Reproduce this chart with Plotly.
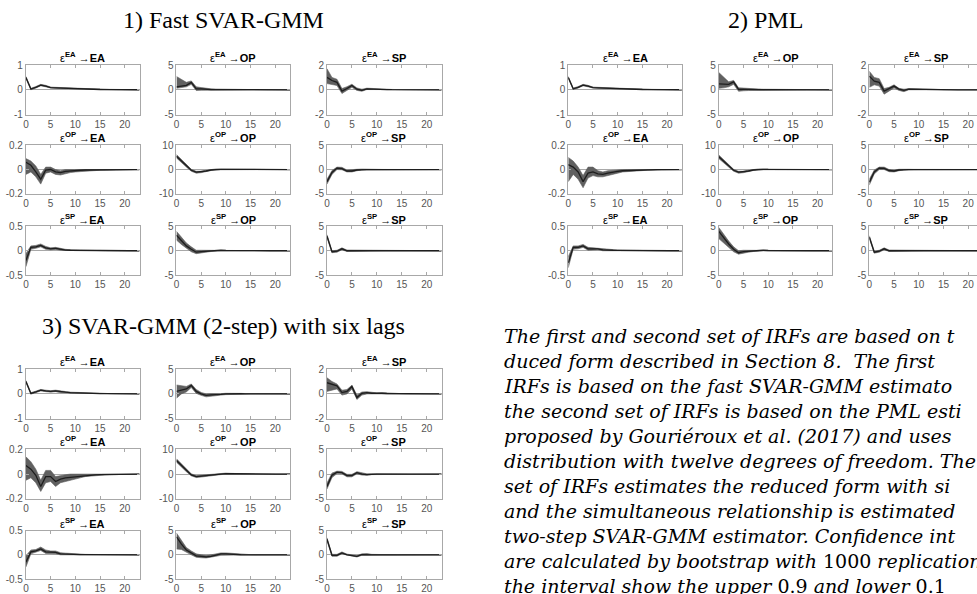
import plotly.graph_objects as go

W, H = 977, 594
# Calibration between figure pixels and the photographed page (measured):
# photo_y = 5.4 + 0.979 * fig_y ; photo_x = fig_x + 2
Y0, SY, X0 = 5.4, 0.979, 2.0

HORIZON = list(range(24))
SHOCKS = ["EA", "OP", "SP"]
PANEL_TITLES = ["1) Fast SVAR-GMM", "2) PML", "3) SVAR-GMM (2-step) with six lags"]
Y_LIMITS = [[1, 5, 2], [0.2, 10, 5], [0.5, 5, 5]]
X_TICKS = [0, 5, 10, 15, 20]

# ---------------- Panel 1: Fast SVAR-GMM ----------------
F_EA_EA_M = [0.50, 0.03, 0.10, 0.19, 0.15, 0.09, 0.08, 0.07, 0.06, 0.05, 0.04, 0.03, 0.025, 0.02, 0.015, 0.012, 0.01, 0.008, 0.006, 0.005, 0.004, 0.003, 0.002, 0.002]
F_EA_EA_L = [0.46, 0.00, 0.07, 0.16, 0.12, 0.07, 0.06, 0.05, 0.045, 0.035, 0.03, 0.02, 0.015, 0.012, 0.01, 0.008, 0.006, 0.005, 0.004, 0.003, 0.002, 0.002, 0.001, 0.001]
F_EA_EA_H = [0.54, 0.06, 0.13, 0.22, 0.18, 0.11, 0.10, 0.09, 0.075, 0.065, 0.05, 0.04, 0.035, 0.028, 0.02, 0.016, 0.014, 0.011, 0.008, 0.007, 0.006, 0.004, 0.003, 0.003]
F_EA_OP_M = [0.6, 0.8, 0.9, 1.5, 0.2, 0.2, 0.1, 0.05, 0.05, 0.05, 0.04, 0.03, 0.02, 0.02, 0.01, 0.01, 0.01, 0.0, 0.0, 0.0, 0.0, 0.0, 0.0, 0.0]
F_EA_OP_L = [0.3, 0.5, 0.6, 1.1, -0.15, -0.1, -0.1, -0.08, -0.05, -0.04, -0.03, -0.02, -0.02, -0.01, -0.01, -0.01, 0.0, 0.0, 0.0, 0.0, 0.0, 0.0, 0.0, 0.0]
F_EA_OP_H = [2.7, 2.1, 1.5, 1.8, 0.6, 0.45, 0.3, 0.2, 0.15, 0.12, 0.1, 0.08, 0.06, 0.05, 0.04, 0.03, 0.02, 0.02, 0.01, 0.01, 0.01, 0.0, 0.0, 0.0]
F_EA_SP_M = [1.0, 0.75, 0.6, -0.1, 0.1, 0.35, 0.05, -0.05, 0.08, 0.05, 0.03, 0.02, 0.02, 0.01, 0.01, 0.01, 0.0, 0.0, 0.0, 0.0, 0.0, 0.0, 0.0, 0.0]
F_EA_SP_L = [0.5, 0.45, 0.35, -0.3, -0.05, 0.2, -0.05, -0.12, 0.02, 0.0, 0.0, -0.01, -0.01, -0.01, 0.0, 0.0, 0.0, 0.0, 0.0, 0.0, 0.0, 0.0, 0.0, 0.0]
F_EA_SP_H = [1.7, 1.0, 0.85, 0.1, 0.25, 0.45, 0.15, 0.05, 0.13, 0.1, 0.07, 0.05, 0.04, 0.03, 0.02, 0.02, 0.01, 0.01, 0.01, 0.0, 0.0, 0.0, 0.0, 0.0]
F_OP_EA_M = [0.06, 0.035, -0.02, -0.08, -0.005, 0.0, -0.02, -0.025, -0.015, -0.01, -0.008, -0.006, -0.004, -0.003, -0.002, -0.002, -0.001, -0.001, 0.0, 0.0, 0.0, 0.0, 0.0, 0.0]
F_OP_EA_L = [-0.04, -0.02, -0.06, -0.12, -0.03, -0.02, -0.04, -0.045, -0.035, -0.025, -0.02, -0.015, -0.012, -0.01, -0.008, -0.006, -0.005, -0.004, -0.003, -0.002, -0.002, -0.001, -0.001, -0.001]
F_OP_EA_H = [0.09, 0.07, 0.03, -0.04, 0.02, 0.02, 0.0, -0.01, 0.0, 0.0, 0.0, 0.001, 0.001, 0.001, 0.001, 0.001, 0.001, 0.001, 0.001, 0.001, 0.0, 0.0, 0.0, 0.0]
F_OP_OP_M = [5.5, 3.5, 1.5, -0.3, -1.1, -1.0, -0.6, -0.2, 0.1, 0.1, 0.05, 0.03, 0.02, 0.01, 0.0, 0.0, 0.0, 0.0, 0.0, 0.0, 0.0, 0.0, 0.0, 0.0]
F_OP_OP_L = [4.8, 2.9, 1.0, -0.7, -1.5, -1.3, -0.9, -0.4, -0.1, -0.05, -0.05, -0.03, -0.02, -0.01, -0.01, 0.0, 0.0, 0.0, 0.0, 0.0, 0.0, 0.0, 0.0, 0.0]
F_OP_OP_H = [6.2, 4.1, 2.0, 0.1, -0.7, -0.7, -0.3, 0.0, 0.25, 0.2, 0.15, 0.1, 0.06, 0.04, 0.03, 0.02, 0.01, 0.01, 0.0, 0.0, 0.0, 0.0, 0.0, 0.0]
F_OP_SP_M = [-2.5, -0.6, 0.3, 0.2, -0.3, -0.3, -0.1, 0.0, 0.0, 0.0, 0.0, 0.0, 0.0, 0.0, 0.0, 0.0, 0.0, 0.0, 0.0, 0.0, 0.0, 0.0, 0.0, 0.0]
F_OP_SP_L = [-3.0, -1.0, 0.0, -0.05, -0.5, -0.5, -0.25, -0.1, -0.05, -0.03, -0.02, -0.02, -0.01, -0.01, 0.0, 0.0, 0.0, 0.0, 0.0, 0.0, 0.0, 0.0, 0.0, 0.0]
F_OP_SP_H = [-2.0, -0.2, 0.5, 0.45, -0.1, -0.1, 0.05, 0.1, 0.05, 0.03, 0.02, 0.02, 0.01, 0.01, 0.0, 0.0, 0.0, 0.0, 0.0, 0.0, 0.0, 0.0, 0.0, 0.0]
F_SP_EA_M = [-0.2, 0.07, 0.08, 0.11, 0.06, 0.04, 0.05, 0.03, 0.015, 0.01, 0.008, 0.006, 0.004, 0.003, 0.002, 0.002, 0.001, 0.001, 0.0, 0.0, 0.0, 0.0, 0.0, 0.0]
F_SP_EA_L = [-0.33, 0.03, 0.05, 0.08, 0.03, 0.02, 0.03, 0.01, 0.0, 0.0, 0.0, 0.0, 0.0, 0.0, 0.0, 0.0, 0.0, 0.0, 0.0, 0.0, 0.0, 0.0, 0.0, 0.0]
F_SP_EA_H = [-0.06, 0.1, 0.11, 0.14, 0.09, 0.06, 0.07, 0.045, 0.03, 0.02, 0.015, 0.012, 0.008, 0.006, 0.004, 0.003, 0.002, 0.002, 0.001, 0.001, 0.0, 0.0, 0.0, 0.0]
F_SP_OP_M = [3.2, 2.0, 1.0, 0.3, -0.3, -0.2, -0.1, 0.0, 0.1, 0.1, 0.05, 0.03, 0.02, 0.01, 0.0, 0.0, 0.0, 0.0, 0.0, 0.0, 0.0, 0.0, 0.0, 0.0]
F_SP_OP_L = [2.2, 1.3, 0.5, -0.2, -0.6, -0.45, -0.3, -0.15, -0.05, -0.02, -0.02, -0.01, -0.01, 0.0, 0.0, 0.0, 0.0, 0.0, 0.0, 0.0, 0.0, 0.0, 0.0, 0.0]
F_SP_OP_H = [4.0, 2.8, 1.6, 0.8, 0.1, 0.1, 0.1, 0.15, 0.2, 0.2, 0.12, 0.08, 0.05, 0.03, 0.02, 0.01, 0.01, 0.0, 0.0, 0.0, 0.0, 0.0, 0.0, 0.0]
F_SP_SP_M = [3.0, -0.2, -0.1, 0.4, 0.0, 0.0, -0.05, 0.0, 0.02, 0.01, 0.0, 0.0, 0.0, 0.0, 0.0, 0.0, 0.0, 0.0, 0.0, 0.0, 0.0, 0.0, 0.0, 0.0]
F_SP_SP_L = [2.7, -0.4, -0.3, 0.2, -0.15, -0.15, -0.15, -0.08, -0.05, -0.03, -0.02, -0.01, 0.0, 0.0, 0.0, 0.0, 0.0, 0.0, 0.0, 0.0, 0.0, 0.0, 0.0, 0.0]
F_SP_SP_H = [3.3, 0.0, 0.1, 0.6, 0.15, 0.15, 0.05, 0.08, 0.08, 0.05, 0.03, 0.02, 0.01, 0.0, 0.0, 0.0, 0.0, 0.0, 0.0, 0.0, 0.0, 0.0, 0.0, 0.0]

# ---------------- Panel 2: PML ----------------
P_EA_EA_M = [0.50, 0.04, 0.10, 0.19, 0.15, 0.09, 0.08, 0.07, 0.06, 0.05, 0.04, 0.03, 0.025, 0.02, 0.015, 0.012, 0.01, 0.008, 0.006, 0.005, 0.004, 0.003, 0.002, 0.002]
P_EA_EA_L = [0.46, 0.01, 0.07, 0.16, 0.12, 0.07, 0.06, 0.05, 0.045, 0.035, 0.03, 0.02, 0.015, 0.012, 0.01, 0.008, 0.006, 0.005, 0.004, 0.003, 0.002, 0.002, 0.001, 0.001]
P_EA_EA_H = [0.54, 0.07, 0.13, 0.22, 0.18, 0.11, 0.10, 0.09, 0.075, 0.065, 0.05, 0.04, 0.035, 0.028, 0.02, 0.016, 0.014, 0.011, 0.008, 0.007, 0.006, 0.004, 0.003, 0.003]
P_EA_OP_M = [1.2, 1.2, 1.1, 1.6, 0.1, 0.1, 0.05, 0.05, 0.05, 0.04, 0.03, 0.02, 0.02, 0.01, 0.01, 0.01, 0.0, 0.0, 0.0, 0.0, 0.0, 0.0, 0.0, 0.0]
P_EA_OP_L = [0.3, 0.4, 0.6, 1.1, -0.3, -0.2, -0.15, -0.1, -0.06, -0.05, -0.04, -0.03, -0.02, -0.01, -0.01, 0.0, 0.0, 0.0, 0.0, 0.0, 0.0, 0.0, 0.0, 0.0]
P_EA_OP_H = [3.5, 2.5, 1.6, 1.9, 0.4, 0.35, 0.25, 0.2, 0.15, 0.12, 0.1, 0.08, 0.06, 0.05, 0.04, 0.03, 0.02, 0.01, 0.01, 0.0, 0.0, 0.0, 0.0, 0.0]
P_EA_SP_M = [1.1, 0.7, 0.6, -0.1, 0.1, 0.3, 0.05, -0.05, 0.05, 0.04, 0.03, 0.02, 0.02, 0.01, 0.01, 0.0, 0.0, 0.0, 0.0, 0.0, 0.0, 0.0, 0.0, 0.0]
P_EA_SP_L = [0.2, 0.4, 0.3, -0.35, -0.1, 0.15, -0.05, -0.15, 0.0, -0.01, -0.01, -0.01, 0.0, 0.0, 0.0, 0.0, 0.0, 0.0, 0.0, 0.0, 0.0, 0.0, 0.0, 0.0]
P_EA_SP_H = [1.5, 1.0, 0.9, 0.1, 0.2, 0.4, 0.12, 0.05, 0.1, 0.08, 0.06, 0.05, 0.04, 0.03, 0.02, 0.01, 0.01, 0.0, 0.0, 0.0, 0.0, 0.0, 0.0, 0.0]
P_OP_EA_M = [0.04, 0.02, -0.02, -0.1, -0.03, -0.02, -0.035, -0.04, -0.03, -0.02, -0.015, -0.01, -0.008, -0.006, -0.004, -0.003, -0.002, -0.002, -0.001, -0.001, 0.0, 0.0, 0.0, 0.0]
P_OP_EA_L = [-0.1, -0.04, -0.08, -0.15, -0.07, -0.05, -0.06, -0.06, -0.05, -0.04, -0.03, -0.02, -0.015, -0.012, -0.01, -0.008, -0.006, -0.005, -0.004, -0.003, -0.002, -0.002, -0.001, -0.001]
P_OP_EA_H = [0.1, 0.07, 0.02, -0.05, 0.02, 0.02, -0.01, -0.02, -0.01, -0.005, 0.0, 0.0, 0.0, 0.0, 0.0, 0.001, 0.001, 0.001, 0.001, 0.001, 0.0, 0.0, 0.0, 0.0]
P_OP_OP_M = [5.3, 3.4, 1.5, -0.3, -1.1, -1.0, -0.6, -0.2, 0.1, 0.1, 0.05, 0.03, 0.02, 0.01, 0.0, 0.0, 0.0, 0.0, 0.0, 0.0, 0.0, 0.0, 0.0, 0.0]
P_OP_OP_L = [4.5, 2.8, 1.0, -0.7, -1.5, -1.3, -0.9, -0.4, -0.1, -0.05, -0.05, -0.03, -0.02, -0.01, -0.01, 0.0, 0.0, 0.0, 0.0, 0.0, 0.0, 0.0, 0.0, 0.0]
P_OP_OP_H = [6.0, 4.0, 2.0, 0.1, -0.7, -0.7, -0.3, 0.0, 0.25, 0.2, 0.15, 0.1, 0.06, 0.04, 0.03, 0.02, 0.01, 0.01, 0.0, 0.0, 0.0, 0.0, 0.0, 0.0]
P_OP_SP_M = [-2.6, -0.5, 0.3, 0.25, -0.2, -0.3, -0.1, 0.0, 0.0, 0.0, 0.0, 0.0, 0.0, 0.0, 0.0, 0.0, 0.0, 0.0, 0.0, 0.0, 0.0, 0.0, 0.0, 0.0]
P_OP_SP_L = [-3.2, -0.9, 0.0, 0.0, -0.45, -0.5, -0.25, -0.1, -0.05, -0.03, -0.02, -0.02, -0.01, -0.01, 0.0, 0.0, 0.0, 0.0, 0.0, 0.0, 0.0, 0.0, 0.0, 0.0]
P_OP_SP_H = [-2.0, -0.1, 0.5, 0.5, 0.0, -0.1, 0.05, 0.1, 0.05, 0.03, 0.02, 0.02, 0.01, 0.01, 0.0, 0.0, 0.0, 0.0, 0.0, 0.0, 0.0, 0.0, 0.0, 0.0]
P_SP_EA_M = [-0.25, 0.07, 0.07, 0.1, 0.04, 0.04, 0.04, 0.02, 0.01, 0.01, 0.008, 0.006, 0.004, 0.003, 0.002, 0.002, 0.001, 0.001, 0.0, 0.0, 0.0, 0.0, 0.0, 0.0]
P_SP_EA_L = [-0.35, 0.03, 0.04, 0.07, 0.01, 0.01, 0.02, 0.0, 0.0, 0.0, 0.0, 0.0, 0.0, 0.0, 0.0, 0.0, 0.0, 0.0, 0.0, 0.0, 0.0, 0.0, 0.0, 0.0]
P_SP_EA_H = [-0.12, 0.1, 0.1, 0.13, 0.07, 0.06, 0.06, 0.04, 0.025, 0.02, 0.015, 0.012, 0.008, 0.006, 0.004, 0.003, 0.002, 0.002, 0.001, 0.001, 0.0, 0.0, 0.0, 0.0]
P_SP_OP_M = [4.0, 2.6, 1.4, 0.3, -0.4, -0.2, -0.1, 0.0, 0.1, 0.1, 0.05, 0.03, 0.02, 0.01, 0.0, 0.0, 0.0, 0.0, 0.0, 0.0, 0.0, 0.0, 0.0, 0.0]
P_SP_OP_L = [2.5, 1.6, 0.7, -0.2, -0.7, -0.5, -0.3, -0.15, -0.05, -0.02, -0.02, -0.01, -0.01, 0.0, 0.0, 0.0, 0.0, 0.0, 0.0, 0.0, 0.0, 0.0, 0.0, 0.0]
P_SP_OP_H = [4.8, 3.3, 2.0, 0.8, 0.0, 0.1, 0.1, 0.15, 0.2, 0.2, 0.12, 0.08, 0.05, 0.03, 0.02, 0.01, 0.01, 0.0, 0.0, 0.0, 0.0, 0.0, 0.0, 0.0]
P_SP_SP_M = [2.8, -0.3, -0.1, 0.4, 0.0, 0.0, -0.05, 0.0, 0.02, 0.01, 0.0, 0.0, 0.0, 0.0, 0.0, 0.0, 0.0, 0.0, 0.0, 0.0, 0.0, 0.0, 0.0, 0.0]
P_SP_SP_L = [2.5, -0.5, -0.3, 0.2, -0.15, -0.15, -0.15, -0.08, -0.05, -0.03, -0.02, -0.01, 0.0, 0.0, 0.0, 0.0, 0.0, 0.0, 0.0, 0.0, 0.0, 0.0, 0.0, 0.0]
P_SP_SP_H = [3.1, -0.1, 0.1, 0.6, 0.15, 0.15, 0.05, 0.08, 0.08, 0.05, 0.03, 0.02, 0.01, 0.0, 0.0, 0.0, 0.0, 0.0, 0.0, 0.0, 0.0, 0.0, 0.0, 0.0]

# ---------------- Panel 3: SVAR-GMM (2-step), six lags ----------------
S_EA_EA_M = [0.50, 0.02, 0.08, 0.15, 0.12, 0.10, 0.12, 0.08, 0.07, 0.05, 0.04, 0.03, 0.03, 0.02, 0.015, 0.012, 0.01, 0.008, 0.006, 0.005, 0.004, 0.003, 0.002, 0.002]
S_EA_EA_L = [0.46, -0.01, 0.05, 0.12, 0.09, 0.07, 0.09, 0.05, 0.045, 0.03, 0.02, 0.015, 0.015, 0.01, 0.008, 0.006, 0.005, 0.004, 0.003, 0.002, 0.002, 0.001, 0.001, 0.001]
S_EA_EA_H = [0.54, 0.05, 0.11, 0.18, 0.15, 0.13, 0.15, 0.11, 0.095, 0.07, 0.06, 0.045, 0.045, 0.03, 0.022, 0.018, 0.015, 0.012, 0.009, 0.008, 0.006, 0.005, 0.003, 0.003]
S_EA_OP_M = [0.5, 0.8, 1.0, 1.7, 0.5, 0.0, -0.3, -0.2, -0.2, -0.1, 0.0, 0.05, 0.05, 0.03, 0.02, 0.01, 0.0, 0.0, 0.0, 0.0, 0.0, 0.0, 0.0, 0.0]
S_EA_OP_L = [-0.9, 0.0, 0.4, 1.3, 0.1, -0.3, -0.6, -0.45, -0.35, -0.25, -0.15, -0.1, -0.05, -0.05, -0.03, -0.02, -0.01, 0.0, 0.0, 0.0, 0.0, 0.0, 0.0, 0.0]
S_EA_OP_H = [1.8, 1.6, 1.5, 2.0, 0.9, 0.3, 0.0, 0.05, 0.0, 0.05, 0.12, 0.15, 0.12, 0.1, 0.07, 0.05, 0.03, 0.02, 0.01, 0.0, 0.0, 0.0, 0.0, 0.0]
S_EA_SP_M = [0.9, 0.75, 0.65, 0.1, 0.2, 0.6, -0.3, 0.05, 0.1, 0.05, 0.02, 0.05, 0.03, 0.02, 0.01, 0.01, 0.0, 0.0, 0.0, 0.0, 0.0, 0.0, 0.0, 0.0]
S_EA_SP_L = [0.2, 0.3, 0.4, -0.1, 0.0, 0.4, -0.45, -0.1, 0.0, -0.03, -0.05, -0.02, -0.02, -0.01, -0.01, 0.0, 0.0, 0.0, 0.0, 0.0, 0.0, 0.0, 0.0, 0.0]
S_EA_SP_H = [1.3, 1.0, 0.8, 0.3, 0.35, 0.7, -0.1, 0.15, 0.18, 0.12, 0.08, 0.1, 0.07, 0.05, 0.03, 0.02, 0.01, 0.01, 0.0, 0.0, 0.0, 0.0, 0.0, 0.0]
S_OP_EA_M = [0.07, 0.04, -0.01, -0.1, -0.02, -0.02, -0.06, -0.04, -0.03, -0.025, -0.02, -0.015, -0.01, -0.008, -0.006, -0.004, -0.003, -0.002, -0.002, -0.001, -0.001, 0.0, 0.0, 0.0]
S_OP_EA_L = [-0.05, -0.03, -0.07, -0.14, -0.07, -0.06, -0.1, -0.07, -0.06, -0.05, -0.04, -0.03, -0.02, -0.016, -0.012, -0.009, -0.007, -0.005, -0.004, -0.003, -0.002, -0.002, -0.001, -0.001]
S_OP_EA_H = [0.14, 0.1, 0.04, -0.05, 0.03, 0.03, -0.02, -0.01, -0.005, 0.0, 0.0, 0.0, 0.0, 0.0, 0.0, 0.001, 0.001, 0.001, 0.001, 0.001, 0.0, 0.0, 0.0, 0.0]
S_OP_OP_M = [5.5, 3.5, 1.5, -0.3, -1.0, -0.8, -0.8, -0.5, -0.2, 0.1, 0.2, 0.15, 0.1, 0.05, 0.02, 0.01, 0.0, 0.0, 0.0, 0.0, 0.0, 0.0, 0.0, 0.0]
S_OP_OP_L = [4.8, 2.9, 1.0, -0.7, -1.4, -1.2, -1.2, -0.8, -0.5, -0.2, -0.05, -0.05, -0.05, -0.03, -0.02, -0.01, 0.0, 0.0, 0.0, 0.0, 0.0, 0.0, 0.0, 0.0]
S_OP_OP_H = [6.2, 4.1, 2.0, 0.1, -0.6, -0.4, -0.4, -0.2, 0.1, 0.35, 0.4, 0.3, 0.2, 0.12, 0.07, 0.04, 0.02, 0.01, 0.0, 0.0, 0.0, 0.0, 0.0, 0.0]
S_OP_SP_M = [-2.5, -0.2, 0.4, 0.3, -0.3, -0.3, 0.3, 0.0, -0.1, 0.0, 0.0, 0.0, 0.0, 0.0, 0.0, 0.0, 0.0, 0.0, 0.0, 0.0, 0.0, 0.0, 0.0, 0.0]
S_OP_SP_L = [-3.0, -0.7, 0.1, 0.05, -0.55, -0.55, 0.05, -0.2, -0.25, -0.1, -0.05, -0.03, -0.02, -0.01, 0.0, 0.0, 0.0, 0.0, 0.0, 0.0, 0.0, 0.0, 0.0, 0.0]
S_OP_SP_H = [-1.8, 0.2, 0.6, 0.55, -0.05, -0.05, 0.5, 0.2, 0.05, 0.08, 0.05, 0.03, 0.02, 0.01, 0.0, 0.0, 0.0, 0.0, 0.0, 0.0, 0.0, 0.0, 0.0, 0.0]
S_SP_EA_M = [-0.15, 0.06, 0.08, 0.12, 0.06, 0.05, 0.05, 0.02, 0.02, 0.01, 0.008, 0.006, 0.004, 0.003, 0.002, 0.002, 0.001, 0.001, 0.0, 0.0, 0.0, 0.0, 0.0, 0.0]
S_SP_EA_L = [-0.25, 0.02, 0.05, 0.09, 0.03, 0.02, 0.02, 0.0, 0.0, 0.0, 0.0, 0.0, 0.0, 0.0, 0.0, 0.0, 0.0, 0.0, 0.0, 0.0, 0.0, 0.0, 0.0, 0.0]
S_SP_EA_H = [-0.02, 0.1, 0.11, 0.16, 0.1, 0.08, 0.08, 0.045, 0.035, 0.025, 0.018, 0.014, 0.01, 0.008, 0.006, 0.004, 0.003, 0.002, 0.002, 0.001, 0.001, 0.0, 0.0, 0.0]
S_SP_OP_M = [3.7, 2.2, 1.0, 0.4, -0.2, -0.3, -0.4, -0.3, 0.0, 0.2, 0.2, 0.1, 0.05, 0.02, 0.01, 0.0, 0.0, 0.0, 0.0, 0.0, 0.0, 0.0, 0.0, 0.0]
S_SP_OP_L = [1.2, 1.1, 0.5, 0.0, -0.5, -0.6, -0.65, -0.55, -0.3, -0.1, -0.05, -0.05, -0.05, -0.03, -0.02, -0.01, 0.0, 0.0, 0.0, 0.0, 0.0, 0.0, 0.0, 0.0]
S_SP_OP_H = [4.5, 3.0, 1.5, 0.8, 0.2, 0.0, -0.1, 0.0, 0.25, 0.4, 0.4, 0.3, 0.2, 0.12, 0.07, 0.04, 0.02, 0.01, 0.0, 0.0, 0.0, 0.0, 0.0, 0.0]
S_SP_SP_M = [3.2, -0.1, -0.1, 0.4, 0.0, -0.1, -0.3, 0.05, 0.1, 0.0, 0.0, 0.0, 0.0, 0.0, 0.0, 0.0, 0.0, 0.0, 0.0, 0.0, 0.0, 0.0, 0.0, 0.0]
S_SP_SP_L = [2.9, -0.3, -0.3, 0.2, -0.15, -0.25, -0.45, -0.1, -0.05, -0.1, -0.05, -0.03, -0.02, -0.01, 0.0, 0.0, 0.0, 0.0, 0.0, 0.0, 0.0, 0.0, 0.0, 0.0]
S_SP_SP_H = [3.5, 0.1, 0.1, 0.6, 0.15, 0.05, -0.15, 0.2, 0.25, 0.1, 0.05, 0.03, 0.02, 0.01, 0.0, 0.0, 0.0, 0.0, 0.0, 0.0, 0.0, 0.0, 0.0, 0.0]

NOTE_LINES = [
    "<i>The first and second set of IRFs are based on t</i>",
    "<i>duced form described in Section 8.\u00a0\u00a0The first</i>",
    "<i>IRFs is based on the fast SVAR-GMM estimato</i>",
    "<i>the second set of IRFs is based on the PML esti</i>",
    "<i>proposed by Gouriéroux et al. (2017) and uses</i>",
    "<i>distribution with twelve degrees of freedom. The</i>",
    "<i>set of IRFs estimates the reduced form with si</i>",
    "<i>and the simultaneous relationship is estimated</i>",
    "<i>two-step SVAR-GMM estimator. Confidence int</i>",
    "<i>are calculated by bootstrap with </i>1000<i> replication</i>",
    "<i>the interval show the upper </i>0.9<i> and lower </i>0.1",
]

# table of series built from the named arrays above
PANEL_DATA = [
    [[(F_EA_EA_M, F_EA_EA_L, F_EA_EA_H), (F_EA_OP_M, F_EA_OP_L, F_EA_OP_H), (F_EA_SP_M, F_EA_SP_L, F_EA_SP_H)],
     [(F_OP_EA_M, F_OP_EA_L, F_OP_EA_H), (F_OP_OP_M, F_OP_OP_L, F_OP_OP_H), (F_OP_SP_M, F_OP_SP_L, F_OP_SP_H)],
     [(F_SP_EA_M, F_SP_EA_L, F_SP_EA_H), (F_SP_OP_M, F_SP_OP_L, F_SP_OP_H), (F_SP_SP_M, F_SP_SP_L, F_SP_SP_H)]],
    [[(P_EA_EA_M, P_EA_EA_L, P_EA_EA_H), (P_EA_OP_M, P_EA_OP_L, P_EA_OP_H), (P_EA_SP_M, P_EA_SP_L, P_EA_SP_H)],
     [(P_OP_EA_M, P_OP_EA_L, P_OP_EA_H), (P_OP_OP_M, P_OP_OP_L, P_OP_OP_H), (P_OP_SP_M, P_OP_SP_L, P_OP_SP_H)],
     [(P_SP_EA_M, P_SP_EA_L, P_SP_EA_H), (P_SP_OP_M, P_SP_OP_L, P_SP_OP_H), (P_SP_SP_M, P_SP_SP_L, P_SP_SP_H)]],
    [[(S_EA_EA_M, S_EA_EA_L, S_EA_EA_H), (S_EA_OP_M, S_EA_OP_L, S_EA_OP_H), (S_EA_SP_M, S_EA_SP_L, S_EA_SP_H)],
     [(S_OP_EA_M, S_OP_EA_L, S_OP_EA_H), (S_OP_OP_M, S_OP_OP_L, S_OP_OP_H), (S_OP_SP_M, S_OP_SP_L, S_OP_SP_H)],
     [(S_SP_EA_M, S_SP_EA_L, S_SP_EA_H), (S_SP_OP_M, S_SP_OP_L, S_SP_OP_H), (S_SP_SP_M, S_SP_SP_L, S_SP_SP_H)]],
]

# ---------------- layout geometry (photographed pixels) ----------------
COLS_LEFT = [(25, 139), (176, 290), (327, 442)]
COLS_RIGHT = [(569, 683), (720, 834), (871, 985)]
ROWS_TOP = [(65, 115), (146, 195), (228, 277)]
ROWS_BOTTOM = [(372, 422), (453, 503), (535, 584)]
PANEL_GEOM = [(COLS_LEFT, ROWS_TOP, 223, 20), (COLS_RIGHT, ROWS_TOP, 767, 20), (COLS_LEFT, ROWS_BOTTOM, 223, 328)]

AX_COLOR = "#a8a8a8"
TICK_FONT = dict(family="Liberation Sans, Arial, sans-serif", size=10, color="#555555")
BAND_COLOR = "rgb(96,96,96)"
LINE_COLOR = "rgb(30,30,30)"


def px(X):
    return (X - X0) / W


def py(Y):
    return 1 - ((Y - Y0) / SY) / H


def fmt(v):
    return "%g" % v


fig = go.Figure()
layout = dict(width=W, height=H, margin=dict(l=0, r=0, t=0, b=0),
              paper_bgcolor="white", plot_bgcolor="white", showlegend=False)
annotations = []

k = 0
for p, (cols, rows, tx, ty) in enumerate(PANEL_GEOM):
    annotations.append(dict(text=PANEL_TITLES[p], x=px(tx), y=py(ty), xref="paper", yref="paper",
                            xanchor="center", yanchor="middle", showarrow=False,
                            font=dict(family="Liberation Serif, Times New Roman, serif", size=24, color="black")))
    for i, shock in enumerate(SHOCKS):
        for j, resp in enumerate(SHOCKS):
            k += 1
            m, lo, hi = PANEL_DATA[p][i][j]
            x0, x1 = cols[j]
            y0, y1 = rows[i]
            xmax = 23.0
            limit_x = W + X0
            clipped = x1 > limit_x
            if clipped:
                xmax = 23.0 * (limit_x - x0) / (x1 - x0)
                x1 = limit_x
            xa = "x" if k == 1 else "x%d" % k
            ya = "y" if k == 1 else "y%d" % k
            lim = Y_LIMITS[i][j]
            hx = HORIZON[:len(hi)]
            lx = HORIZON[:len(lo)]
            fig.add_trace(go.Scatter(x=hx + lx[::-1], y=hi + lo[::-1], fill="toself",
                                     fillcolor=BAND_COLOR, line=dict(width=0.6, color=BAND_COLOR),
                                     mode="lines", hoverinfo="skip", xaxis=xa, yaxis=ya))
            fig.add_trace(go.Scatter(x=HORIZON[:len(m)], y=m, mode="lines",
                                     line=dict(color=LINE_COLOR, width=1.3), xaxis=xa, yaxis=ya))
            xkey = "xaxis" if k == 1 else "xaxis%d" % k
            ykey = "yaxis" if k == 1 else "yaxis%d" % k
            layout[xkey] = dict(domain=[max(0, px(x0)), min(1, px(x1))], range=[0, xmax], anchor=ya,
                                showline=True, linecolor=AX_COLOR, linewidth=1, mirror="ticks",
                                ticks="inside", ticklen=3, tickcolor=AX_COLOR,
                                tickvals=X_TICKS, ticktext=[str(t) for t in X_TICKS],
                                tickfont=TICK_FONT, showgrid=False, zeroline=False, fixedrange=True)
            layout[ykey] = dict(domain=[max(0, py(y1)), min(1, py(y0))], range=[-lim, lim], anchor=xa,
                                showline=True, linecolor=AX_COLOR, linewidth=1,
                                mirror=False if clipped else "ticks",
                                ticks="inside", ticklen=3, tickcolor=AX_COLOR,
                                tickvals=[-lim, 0, lim], ticktext=["-" + fmt(lim), "0", fmt(lim)],
                                tickfont=TICK_FONT, showgrid=False, zeroline=True,
                                zerolinecolor=AX_COLOR, zerolinewidth=1, fixedrange=True)
            cx = x0 + 57
            annotations.append(dict(
                text="ε<sup><b>%s</b></sup> →<b>%s</b>" % (shock, resp),
                x=px(cx), y=py(y0 - 8), xref="paper", yref="paper",
                xanchor="center", yanchor="middle", showarrow=False,
                font=dict(family="Liberation Sans, Arial, sans-serif", size=11, color="black")))

for n, line in enumerate(NOTE_LINES):
    annotations.append(dict(text=line, x=px(503), y=py(338.3 + 25.27 * n), xref="paper", yref="paper",
                            xanchor="left", yanchor="middle", showarrow=False, align="left",
                            font=dict(family="DejaVu Serif, serif", size=19, color="black")))

layout["annotations"] = annotations
fig.update_layout(**layout)
fig.write_html(
    "out.html",
    config={"displayModeBar": False, "staticPlot": True},
    post_script=("var s=document.documentElement.style;s.margin='0';s.padding='0';s.overflow='hidden';"
                 "var b=document.body.style;b.margin='0';b.padding='0';b.overflow='hidden';"),
)
